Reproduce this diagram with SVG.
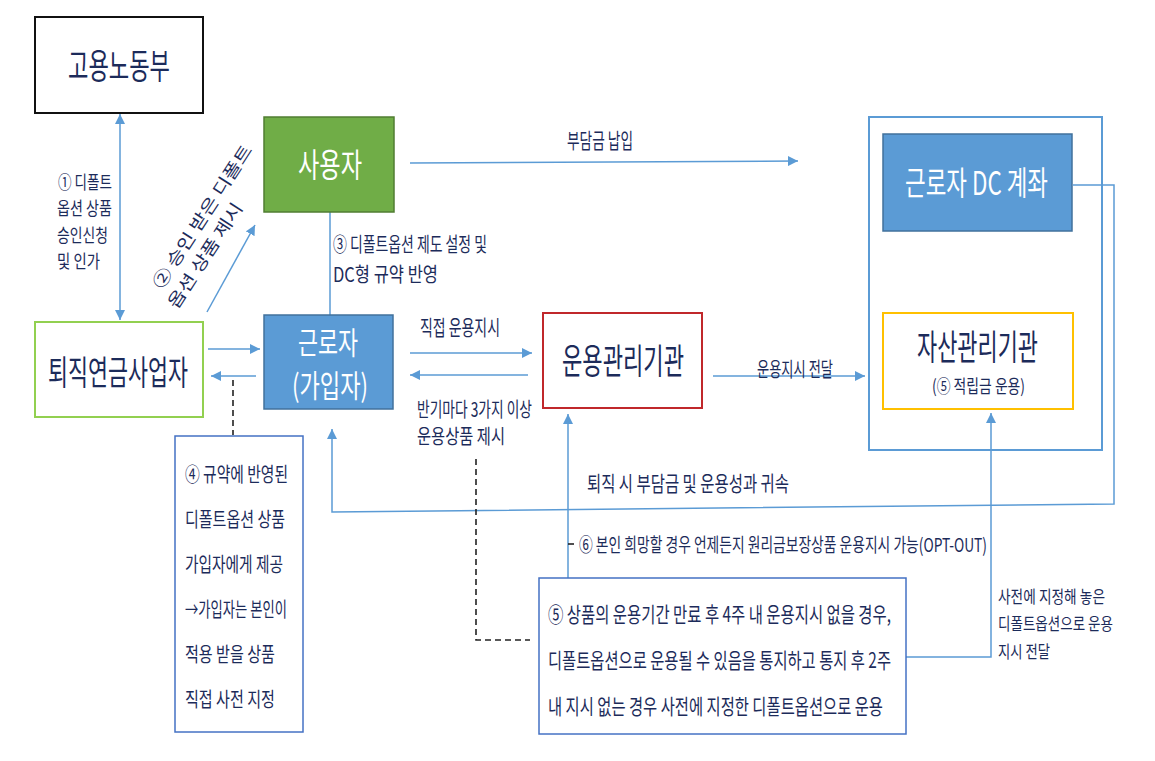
<svg xmlns="http://www.w3.org/2000/svg" width="1155" height="761" viewBox="0 0 1155 761">
<defs>
<style>
text{font-family:"Noto Sans CJK KR","Noto Sans",sans-serif;fill:#1C2B5A}
.w{fill:#FFFFFF}
.ln{fill:none;stroke:#5B9BD5;stroke-width:1.5}
.dash{fill:none;stroke:#222222;stroke-width:1.6;stroke-dasharray:6,4}
</style>
<marker id="ah" viewBox="0 0 10 10" refX="10" refY="5" markerWidth="10" markerHeight="10" markerUnits="userSpaceOnUse" orient="auto-start-reverse">
<path d="M0,0 L10,5 L0,10 z" fill="#5B9BD5"/>
</marker>
</defs>
<rect width="1155" height="761" fill="#FFFFFF"/>

<g id="connectors">
<line class="ln" x1="120" y1="114" x2="120" y2="320" marker-start="url(#ah)" marker-end="url(#ah)"/>
<line class="ln" x1="207" y1="312" x2="255" y2="225" marker-end="url(#ah)"/>
<line class="ln" x1="410" y1="163" x2="798" y2="161" marker-end="url(#ah)"/>
<line class="ln" x1="330" y1="212" x2="330" y2="315"/>
<line class="ln" x1="208" y1="349" x2="260" y2="349" marker-end="url(#ah)"/>
<line class="ln" x1="256" y1="376" x2="211" y2="376" marker-end="url(#ah)"/>
<line class="ln" x1="410" y1="353" x2="532" y2="353" marker-end="url(#ah)"/>
<line class="ln" x1="528" y1="375" x2="410" y2="375" marker-end="url(#ah)"/>
<line class="ln" x1="713" y1="376" x2="865" y2="376" marker-end="url(#ah)"/>
<polyline class="ln" points="1073,185 1114,185 1114,504 332,512 332,429" marker-end="url(#ah)"/>
<line class="ln" x1="568" y1="578" x2="568" y2="414" marker-end="url(#ah)"/>
<polyline class="ln" points="906,657 991,657 991,413" marker-end="url(#ah)"/>
<line class="dash" x1="233" y1="380" x2="233" y2="435"/>
<polyline class="dash" points="476,459 476,640 530,640"/>
<line class="dash" x1="568" y1="544" x2="578" y2="544" stroke-dasharray="3,3"/>
</g>

<g id="labels">
<text font-size="18" x="58" y="189" textLength="54" lengthAdjust="spacingAndGlyphs">① 디폴트</text>
<text font-size="18" x="57" y="215" textLength="55" lengthAdjust="spacingAndGlyphs">옵션 상품</text>
<text font-size="18" x="57" y="242" textLength="51" lengthAdjust="spacingAndGlyphs">승인신청</text>
<text font-size="18" x="57" y="268" textLength="43" lengthAdjust="spacingAndGlyphs">및 인가</text>
<text font-size="17" transform="translate(162,290) rotate(-57)" textLength="167" lengthAdjust="spacingAndGlyphs">② 승인 받은 디폴트</text>
<text font-size="17" transform="translate(177,310) rotate(-57)" textLength="122" lengthAdjust="spacingAndGlyphs">옵션 상품 제시</text>
<text font-size="21" x="567" y="148" textLength="66" lengthAdjust="spacingAndGlyphs">부담금 납입</text>
<text font-size="20" x="333" y="252" textLength="154" lengthAdjust="spacingAndGlyphs">③ 디폴트옵션 제도 설정 및</text>
<text font-size="20" x="333" y="282" textLength="105" lengthAdjust="spacingAndGlyphs">DC형 규약 반영</text>
<text font-size="21" x="420" y="335" textLength="80" lengthAdjust="spacingAndGlyphs">직접 운용지시</text>
<text font-size="20" x="417" y="417" textLength="115" lengthAdjust="spacingAndGlyphs">반기마다 3가지 이상</text>
<text font-size="20" x="417" y="444" textLength="88" lengthAdjust="spacingAndGlyphs">운용상품 제시</text>
<text font-size="20" x="757" y="377" textLength="76" lengthAdjust="spacingAndGlyphs">운용지시 전달</text>
<text font-size="21" x="587" y="491" textLength="202" lengthAdjust="spacingAndGlyphs">퇴직 시 부담금 및 운용성과 귀속</text>
<text font-size="19" x="579" y="552" textLength="408" lengthAdjust="spacingAndGlyphs">⑥ 본인 희망할 경우 언제든지 원리금보장상품 운용지시 가능(OPT-OUT)</text>
<text font-size="17" x="998" y="603" textLength="107" lengthAdjust="spacingAndGlyphs">사전에 지정해 놓은</text>
<text font-size="17" x="998" y="630" textLength="115" lengthAdjust="spacingAndGlyphs">디폴트옵션으로 운용</text>
<text font-size="17" x="998" y="658" textLength="52" lengthAdjust="spacingAndGlyphs">지시 전달</text>
</g>

<g id="node-moel">
<rect x="35" y="17" width="168" height="96" fill="#FFFFFF" stroke="#111111" stroke-width="2"/>
<text font-size="35" x="68" y="79" textLength="102" lengthAdjust="spacingAndGlyphs">고용노동부</text>
</g>

<g id="node-employer">
<rect x="264" y="117" width="130" height="95" fill="#70AD47" stroke="#507E32" stroke-width="1.5"/>
<text class="w" font-size="33" x="298" y="177" textLength="64" lengthAdjust="spacingAndGlyphs">사용자</text>
</g>

<g id="node-provider">
<rect x="35" y="322" width="168" height="95" fill="#FFFFFF" stroke="#92D050" stroke-width="2"/>
<text font-size="34" x="48" y="385" textLength="140" lengthAdjust="spacingAndGlyphs">퇴직연금사업자</text>
</g>

<g id="node-worker">
<rect x="264" y="315" width="129" height="94" fill="#5B9BD5" stroke="#41719C" stroke-width="1.5"/>
<text class="w" font-size="31" x="298" y="354" textLength="60" lengthAdjust="spacingAndGlyphs">근로자</text>
<text class="w" font-size="31" x="292" y="397" textLength="76" lengthAdjust="spacingAndGlyphs">(가입자)</text>
</g>

<g id="node-recordkeeper">
<rect x="543" y="313" width="159" height="95" fill="#FFFFFF" stroke="#C0282B" stroke-width="2"/>
<text font-size="35" x="562" y="374" textLength="122" lengthAdjust="spacingAndGlyphs">운용관리기관</text>
</g>

<g id="node-container">
<rect x="869" y="117" width="233" height="333" fill="none" stroke="#5B9BD5" stroke-width="2"/>
</g>

<g id="node-dc">
<rect x="883" y="134" width="189" height="97" fill="#5B9BD5" stroke="#41719C" stroke-width="1.5"/>
<text class="w" font-size="33" x="905" y="195" textLength="143" lengthAdjust="spacingAndGlyphs">근로자 DC 계좌</text>
</g>

<g id="node-custodian">
<rect x="883" y="313" width="190" height="96" fill="#FFFFFF" stroke="#FFC000" stroke-width="2"/>
<text font-size="35" x="917" y="360" textLength="121" lengthAdjust="spacingAndGlyphs">자산관리기관</text>
<text font-size="18" x="932" y="393" textLength="93" lengthAdjust="spacingAndGlyphs">(⑤ 적립금 운용)</text>
</g>

<g id="node-note4">
<rect x="175" y="436" width="128" height="296" fill="#FFFFFF" stroke="#4472C4" stroke-width="1.5"/>
<text font-size="20" x="185" y="482" textLength="103" lengthAdjust="spacingAndGlyphs">④ 규약에 반영된</text>
<text font-size="20" x="185" y="527" textLength="100" lengthAdjust="spacingAndGlyphs">디폴트옵션 상품</text>
<text font-size="20" x="185" y="572" textLength="98" lengthAdjust="spacingAndGlyphs">가입자에게 제공</text>
<text font-size="20" x="185" y="617" textLength="102" lengthAdjust="spacingAndGlyphs">→가입자는 본인이</text>
<text font-size="20" x="185" y="662" textLength="90" lengthAdjust="spacingAndGlyphs">적용 받을 상품</text>
<text font-size="20" x="185" y="707" textLength="90" lengthAdjust="spacingAndGlyphs">직접 사전 지정</text>
</g>

<g id="node-note5">
<rect x="539" y="578" width="367" height="156" fill="#FFFFFF" stroke="#4472C4" stroke-width="1.5"/>
<text font-size="21" x="548" y="622" textLength="343" lengthAdjust="spacingAndGlyphs">⑤ 상품의 운용기간 만료 후 4주 내 운용지시 없을 경우,</text>
<text font-size="21" x="548" y="668" textLength="343" lengthAdjust="spacingAndGlyphs">디폴트옵션으로 운용될 수 있음을 통지하고 통지 후 2주</text>
<text font-size="21" x="548" y="714" textLength="335" lengthAdjust="spacingAndGlyphs">내 지시 없는 경우 사전에 지정한 디폴트옵션으로 운용</text>
</g>
</svg>
